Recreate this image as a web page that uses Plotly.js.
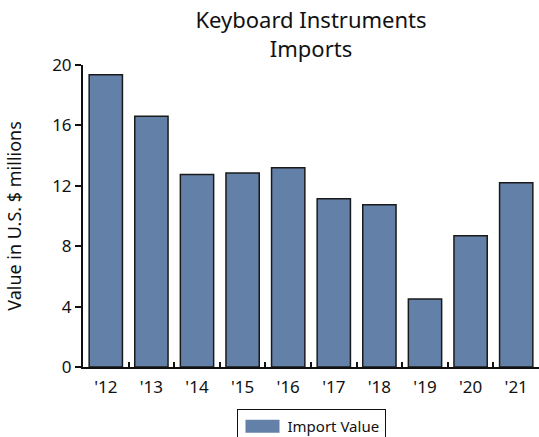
<!DOCTYPE html>
<html><head><meta charset="utf-8">
<script src="https://cdn.plot.ly/plotly-3.0.1.min.js"></script>
<style>html,body{margin:0;padding:0;background:#fff}#chart{width:539px;height:437px}</style>
</head><body><div id="chart"></div>
<script>
const years = ["'12","'13","'14","'15","'16","'17","'18","'19","'20","'21"];
const importValue = [19.35, 16.6, 12.75, 12.85, 13.2, 11.15, 10.75, 4.5, 8.7, 12.2];
const yTicks = [0, 4, 8, 12, 16, 20];
const seriesName = "Import Value";
const chartTitle = "Keyboard Instruments<br>Imports";
const yTitle = "Value in U.S. $ millions";

const FONT = "Noto Sans, Open Sans, sans-serif";
Plotly.newPlot('chart', [{
  type: 'bar', x: years, y: importValue, name: seriesName,
  marker: {color: '#6381a8', line: {color: '#1a1a1a', width: 1.5}},
  showlegend: true, hoverinfo: 'none'
}], {
  width: 539, height: 437,
  margin: {l: 83, r: 0, t: 65, b: 70, autoexpand: false},
  paper_bgcolor: '#fff', plot_bgcolor: '#fff',
  font: {family: FONT, color: '#111', size: 16},
  title: {text: chartTitle, x: 0.5, xref: 'paper', xanchor: 'center', y: 0.935, yref: 'container', yanchor: 'middle',
          font: {size: 22, color: '#111', family: FONT}},
  bargap: 0.27,
  xaxis: {type: 'category', showline: true, linecolor: '#111', linewidth: 2, ticks: 'inside', tickson: 'boundaries',
          ticklen: 5, tickwidth: 2, tickcolor: '#111', tickfont: {size: 17}, ticklabelstandoff: 4,
          showgrid: false, zeroline: false, fixedrange: true},
  yaxis: {range: [0, 20], tickvals: yTicks, showline: true, linecolor: '#111', linewidth: 2, ticks: 'outside',
          ticklen: 6, tickwidth: 2, tickcolor: '#111', tickfont: {size: 17}, showgrid: false, zeroline: false,
          title: {text: yTitle, font: {size: 18}, standoff: 26}, fixedrange: true},
  legend: {orientation: 'h', x: 0.5, xanchor: 'center', yref: 'container', y: 1 - 409/437, yanchor: 'top',
           bordercolor: '#111', borderwidth: 1, font: {size: 15}, bgcolor: '#fff', itemwidth: 40}
}, {displayModeBar: false, staticPlot: true}).then(function(gd){
  // enlarge the legend swatch to match the reference's wide box
  gd.querySelectorAll('.legend .legendpoints path').forEach(function(p){
    p.setAttribute('d', 'M-17,6.5H17V-6.5H-17Z');
    p.style.strokeWidth = '0';
  });
});
</script></body></html>
